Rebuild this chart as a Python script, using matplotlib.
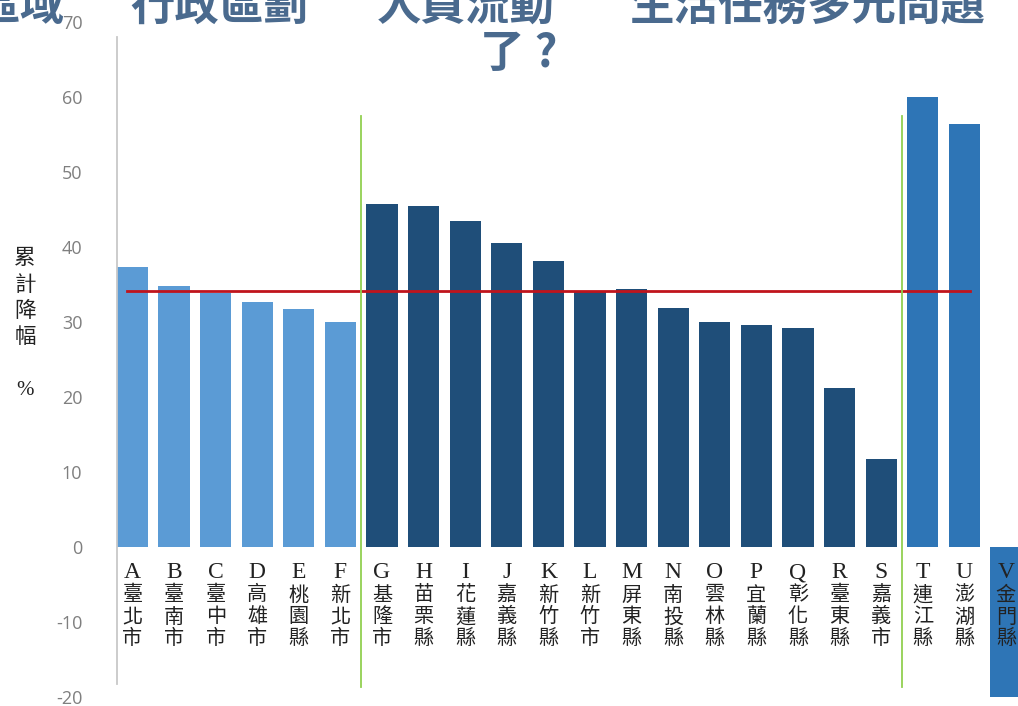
import numpy as np
import matplotlib.pyplot as plt

plt.rcParams['font.family'] = ['Noto Sans CJK TC', 'DejaVu Sans']
plt.rcParams['axes.unicode_minus'] = False

# county / city codes and names
letters = list("ABCDEFGHIJKLMNOPQRSTUV")
names = ["臺北市", "臺南市", "臺中市", "高雄市", "桃園縣", "新北市",
         "基隆市", "苗栗縣", "花蓮縣", "嘉義縣", "新竹縣", "新竹市", "屏東縣",
         "南投縣", "雲林縣", "宜蘭縣", "彰化縣", "臺東縣", "嘉義市",
         "連江縣", "澎湖縣", "金門縣"]
# cumulative decline (%)
values = [37.3, 34.8, 33.9, 32.7, 31.7, 30.0,
          45.7, 45.5, 43.5, 40.5, 38.1, 34.0, 34.4,
          31.9, 30.0, 29.6, 29.2, 21.2, 11.7,
          60.0, 56.4, -20.0]
groups = [0] * 6 + [1] * 13 + [2] * 3
average = 34.2

group_colors = ["#5B9BD5", "#1F4E79", "#2E75B6"]
colors = [group_colors[g] for g in groups]

W, H = 1018, 706
fig = plt.figure(figsize=(W / 100, H / 100), dpi=100)
ax = fig.add_axes([117 / W, 9 / H, 901 / W, 675 / H])

x = np.arange(len(values))
ax.bar(x, values, width=0.75, color=colors, zorder=2)

# average line
ax.plot([-0.13, 20.13], [average, average], color="#C0141C", lw=2, zorder=3)

# group separators
for sep in [5.5, 18.5]:
    ax.plot([sep, sep], [-18.7, 57.5], color="#92D050", lw=1.3, zorder=3)

ax.set_xlim(-0.37, 21.29)
ax.set_ylim(-20, 70)
ax.set_yticks(np.arange(-20, 71, 10))
ax.set_xticks([])
ax.tick_params(axis="y", length=0, pad=25, labelsize=13, labelcolor="#7F7F7F")
for lab in ax.get_yticklabels():
    lab.set_family(["Open Sans", "DejaVu Sans"])

for side in ["top", "right", "bottom"]:
    ax.spines[side].set_visible(False)
ax.spines["left"].set_bounds(-18.3, 68)
ax.spines["left"].set_color("#C8C8C8")
ax.spines["left"].set_linewidth(1.3)

# vertical category labels, one glyph per row below the zero line (offsets in px)
rows_px = [26, 48, 70, 92]
for xi, (l, n) in enumerate(zip(letters, names)):
    for k, ch in enumerate(l + n):
        ax.annotate(ch, xy=(xi, 0), xycoords="data",
                    xytext=(0, -rows_px[k] * 0.72), textcoords="offset points",
                    ha="center", va="center", color="#222222", zorder=4,
                    fontsize=17 if k == 0 else 14.5,
                    family=["Liberation Serif"] if k == 0 else ["Noto Sans CJK TC"])

# y axis label, stacked vertically
for ch, ypx in zip("累計降幅", [258, 285, 311, 337]):
    fig.text(25 / W, 1 - ypx / H, ch, ha="center", va="center",
             fontsize=15.5, color="#222222")
fig.text(25 / W, 1 - 391 / H, "%", ha="center", va="center",
         fontsize=15, color="#222222", family=["Liberation Serif"])

# title, first line runs past the top edge
title_color = "#4A6A8E"
title_parts = [("區域", 65, "right"), ("行政區劃", 130, "left"),
               ("人員流動", 377, "left"), ("生活任務多元問題", 630, "left")]
for txt, xpx, align in title_parts:
    fig.text(xpx / W, 1 - 20 / H, txt, ha=align, va="baseline",
             fontsize=32, fontweight="bold", color=title_color)
fig.text(519 / W, 1 - 54 / H, "了 ?", ha="center", va="center",
         fontsize=32, fontweight="bold", color=title_color)

fig.savefig("out.png", dpi=100)
